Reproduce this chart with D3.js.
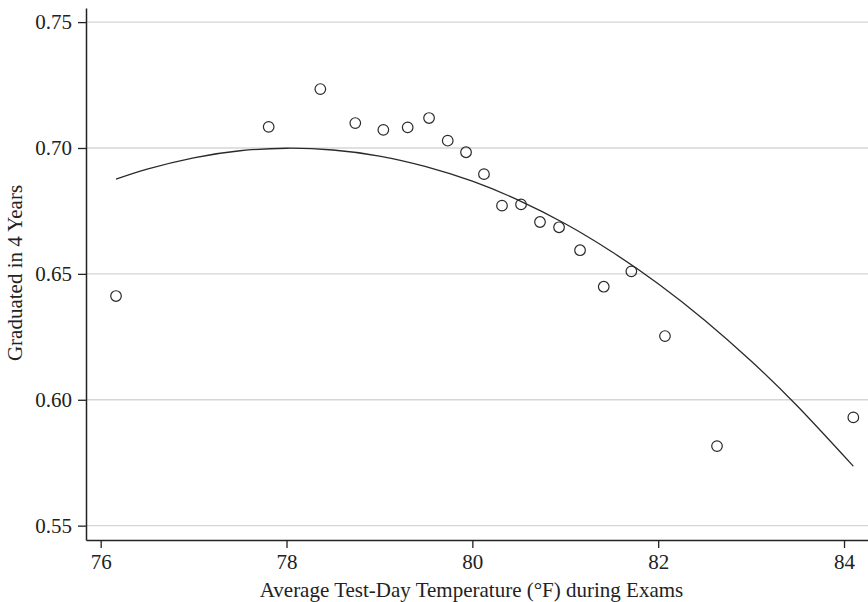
<!DOCTYPE html>
<html><head><meta charset="utf-8">
<script src="https://cdn.jsdelivr.net/npm/d3@7"></script>
<style>body{margin:0;background:#fff}svg{display:block}text{font-family:"Liberation Serif","Times New Roman",serif;fill:#222}</style>
</head><body><svg id="c" width="868" height="602"></svg>
<script>
const tempX = [76.165,77.808,78.364,78.740,79.042,79.304,79.534,79.735,79.932,80.125,80.319,80.524,80.728,80.933,81.159,81.414,81.711,82.073,82.633,84.100];
const gradY = [0.6412,0.7084,0.7234,0.7099,0.7072,0.7082,0.7119,0.7029,0.6983,0.6896,0.6771,0.6776,0.6706,0.6685,0.6594,0.6449,0.6510,0.6253,0.5816,0.5930];
const fitX = [76.165,76.5,77,77.5,78,78.5,79,79.5,80,80.5,81,81.5,82,82.5,83,83.5,84.1];
const fitY = [0.6876,0.6916,0.6961,0.6989,0.6999,0.6992,0.6968,0.6926,0.6868,0.6792,0.6699,0.6588,0.6461,0.6316,0.6154,0.5974,0.5736];
const xTicks = [76,78,80,82,84];
const yTicks = [0.55,0.60,0.65,0.70,0.75];
const xTitle = "Average Test-Day Temperature (°F) during Exams";
const yTitle = "Graduated in 4 Years";

const FS = 21;
const svg = d3.select("#c");
const L=86, R=868, T=8, B=540;
const x = d3.scaleLinear().domain([75.842,84.258]).range([L,R]);
const y = d3.scaleLinear().domain([0.5443,0.7556]).range([B,T]);

svg.append("g").selectAll("line").data(yTicks).join("line")
  .attr("x1",L).attr("x2",R).attr("y1",d=>y(d)).attr("y2",d=>y(d))
  .attr("stroke","#d6d6d6").attr("stroke-width",1.4);

const ya = svg.append("g").attr("transform",`translate(${L},0)`)
  .call(d3.axisLeft(y).tickValues(yTicks).tickFormat(d3.format(".2f")).tickSize(8).tickPadding(6).tickSizeOuter(0));
ya.attr("font-family",null).attr("font-size",null);
ya.select(".domain").attr("stroke","#222").attr("stroke-width",1.5);
ya.selectAll(".tick line").attr("stroke","#222").attr("stroke-width",1.3);
ya.selectAll("text").attr("font-size",FS).attr("fill","#222");

const xa = svg.append("g").attr("transform",`translate(0,${B})`)
  .call(d3.axisBottom(x).tickValues(xTicks).tickFormat(d3.format("d")).tickSize(8).tickPadding(6).tickSizeOuter(0));
xa.attr("font-family",null).attr("font-size",null);
xa.select(".domain").attr("stroke","#222").attr("stroke-width",1.5);
xa.selectAll(".tick line").attr("stroke","#222").attr("stroke-width",1.3);
xa.selectAll("text").attr("font-size",FS).attr("fill","#222");

const line = d3.line().x(d=>x(d[0])).y(d=>y(d[1])).curve(d3.curveNatural);
svg.append("path").datum(fitX.map((v,i)=>[v,fitY[i]]))
  .attr("d",line).attr("fill","none").attr("stroke","#2a2a2a").attr("stroke-width",1.3);

svg.append("g").selectAll("circle").data(tempX.map((v,i)=>[v,gradY[i]])).join("circle")
  .attr("cx",d=>x(d[0])).attr("cy",d=>y(d[1])).attr("r",5.3)
  .attr("fill","none").attr("stroke","#2a2a2a").attr("stroke-width",1.2);

svg.append("text").attr("x",471.5).attr("y",597).attr("text-anchor","middle")
  .attr("font-size",FS).text(xTitle);
svg.append("text").attr("transform",`translate(21.5,273) rotate(-90)`).attr("text-anchor","middle")
  .attr("font-size",FS).text(yTitle);
</script></body></html>
